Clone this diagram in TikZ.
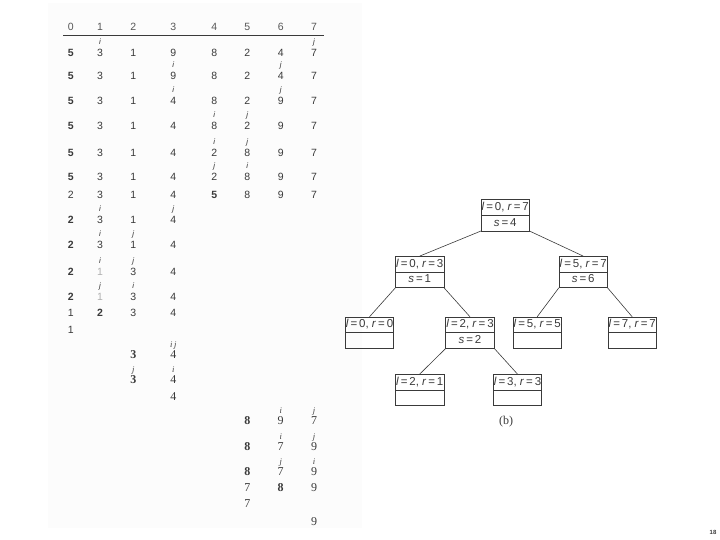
\documentclass[tikz,border=0pt]{standalone}
\usepackage{fontspec}
\setmainfont{Liberation Sans}
\newfontfamily\serifnum{Liberation Serif}
\usetikzlibrary{positioning}
\definecolor{ink}{HTML}{3A3A3A}
\definecolor{panel}{HTML}{FCFCFC}
\tikzset{
  num/.style={inner sep=0pt, font=\fontsize{10.5}{12}\selectfont, text=ink},
  hnum/.style={num, text=ink!85},
  snum/.style={inner sep=0pt, font=\serifnum\fontsize{12}{14}\selectfont, text=ink},
  idx/.style={inner sep=0pt, text depth=0pt, font=\fontsize{8}{9}\selectfont\itshape, text=ink},
  sidx/.style={idx, font=\serifnum\fontsize{8.5}{9}\selectfont\itshape},
  lr/.style={draw=ink, line width=.6pt, minimum width=48.5pt, minimum height=15.8pt, inner sep=0pt, outer sep=0pt,
    text height=8pt, text depth=2pt, font=\fontsize{11.5}{12}\selectfont, text=ink},
  tl/.style={draw=ink, line width=.6pt},
}
\begin{document}
\begin{tikzpicture}[x=1pt, y=-1pt]
  \useasboundingbox (0,0) rectangle (720,540);
  \fill[panel] (48,3) rectangle (362,528);
  % (a) index row
  \foreach \x [count=\k from 0] in {70.7,100,133.3,173.3,214.3,247.3,280.7,314}
    \node[hnum] (h\k) at (\x,27) {\k};
  \draw[ink, line width=.8pt] (63,35) -- (324,35);
  % l=0, r=7, pivot 5
  \foreach \v [count=\k from 0] in {{\bfseries 5},3,1,9,8,2,4,7}
    \node[num] (r1c\k) at (h\k |- 0,53) {\v};
  \node[idx, above=4pt of r1c1] (r1i) {i};
  \node[idx, above=4pt of r1c7] (r1j) {j};
  \foreach \v [count=\k from 0] in {{\bfseries 5},3,1,9,8,2,4,7}
    \node[num] (r2c\k) at (h\k |- 0,76) {\v};
  \node[idx, above=4pt of r2c3] (r2i) {i};
  \node[idx, above=4pt of r2c6] (r2j) {j};
  \foreach \v [count=\k from 0] in {{\bfseries 5},3,1,4,8,2,9,7}
    \node[num] (r3c\k) at (h\k |- 0,101) {\v};
  \node[idx, above=4pt of r3c3] (r3i) {i};
  \node[idx, above=4pt of r3c6] (r3j) {j};
  \foreach \v [count=\k from 0] in {{\bfseries 5},3,1,4,8,2,9,7}
    \node[num] (r4c\k) at (h\k |- 0,126) {\v};
  \node[idx, above=4pt of r4c4] (r4i) {i};
  \node[idx, above=4pt of r4c5] (r4j) {j};
  \foreach \v [count=\k from 0] in {{\bfseries 5},3,1,4,2,8,9,7}
    \node[num] (r5c\k) at (h\k |- 0,153) {\v};
  \node[idx, above=4pt of r5c4] (r5i) {i};
  \node[idx, above=4pt of r5c5] (r5j) {j};
  \foreach \v [count=\k from 0] in {{\bfseries 5},3,1,4,2,8,9,7}
    \node[num] (r6c\k) at (h\k |- 0,177) {\v};
  \node[idx, above=4pt of r6c4] (r6j) {j};
  \node[idx, above=4pt of r6c5] (r6i) {i};
  \foreach \v [count=\k from 0] in {2,3,1,4,{\bfseries 5},8,9,7}
    \node[num] (r7c\k) at (h\k |- 0,195) {\v};
  % l=0, r=3, pivot 2
  \foreach \v [count=\k from 0] in {{\bfseries 2},3,1,4}
    \node[num] (r8c\k) at (h\k |- 0,220) {\v};
  \node[idx, above=4pt of r8c1] (r8i) {i};
  \node[idx, above=4pt of r8c3] (r8j) {j};
  \foreach \v [count=\k from 0] in {{\bfseries 2},3,1,4}
    \node[num] (r9c\k) at (h\k |- 0,245) {\v};
  \node[idx, above=4pt of r9c1] (r9i) {i};
  \node[idx, above=4pt of r9c2] (r9j) {j};
  \foreach \v [count=\k from 0] in {{\bfseries 2},{\color{ink!40}1},3,4}
    \node[num] (r10c\k) at (h\k |- 0,272) {\v};
  \node[idx, above=4pt of r10c1] (r10i) {i};
  \node[idx, above=4pt of r10c2] (r10j) {j};
  \foreach \v [count=\k from 0] in {{\bfseries 2},{\color{ink!40}1},3,4}
    \node[num] (r11c\k) at (h\k |- 0,297) {\v};
  \node[idx, above=4pt of r11c1] (r11j) {j};
  \node[idx, above=4pt of r11c2] (r11i) {i};
  \foreach \v [count=\k from 0] in {1,{\bfseries 2},3,4}
    \node[num] (r12c\k) at (h\k |- 0,313) {\v};
  \node[num] (r13c0) at (h0 |- 0,330) {1};
  % l=2, r=3, pivot 3
  \node[snum] (r14c2) at (h2 |- 0,355) {\bfseries 3};
  \node[snum] (r14c3) at (h3 |- 0,355) {4};
  \node[sidx, above=3pt of r14c3] (r14ij) {i\,j};
  \node[snum] (r15c2) at (h2 |- 0,380) {\bfseries 3};
  \node[snum] (r15c3) at (h3 |- 0,380) {4};
  \node[sidx, above=3pt of r15c2] (r15j) {j};
  \node[sidx, above=3pt of r15c3] (r15i) {i};
  \node[snum] (r16c3) at (h3 |- 0,397) {4};
  % l=5, r=7, pivot 8
  \foreach \v [count=\k from 5] in {{\bfseries 8},9,7}
    \node[snum] (r17c\k) at (h\k |- 0,421) {\v};
  \node[sidx, above=3pt of r17c6] (r17i) {i};
  \node[sidx, above=3pt of r17c7] (r17j) {j};
  \foreach \v [count=\k from 5] in {{\bfseries 8},7,9}
    \node[snum] (r18c\k) at (h\k |- 0,447) {\v};
  \node[sidx, above=3pt of r18c6] (r18i) {i};
  \node[sidx, above=3pt of r18c7] (r18j) {j};
  \foreach \v [count=\k from 5] in {{\bfseries 8},7,9}
    \node[snum] (r19c\k) at (h\k |- 0,472) {\v};
  \node[sidx, above=3pt of r19c6] (r19j) {j};
  \node[sidx, above=3pt of r19c7] (r19i) {i};
  \foreach \v [count=\k from 5] in {7,{\bfseries 8},9}
    \node[snum] (r20c\k) at (h\k |- 0,488) {\v};
  \node[snum] (r21c5) at (h5 |- 0,504) {7};
  \node[snum] (r22c7) at (h7 |- 0,522) {9};

  % (b) recursion tree
  \node[lr] (n07) at (505.2,207.3) {\textit{l}\,=\,0, \textit{r}\,=\,7};
  \node[lr, below=0pt of n07] (n07s) {\textit{s}\,=\,4};
  \node[lr] (n03) at (419.7,264) {\textit{l}\,=\,0, \textit{r}\,=\,3};
  \node[lr, below=0pt of n03] (n03s) {\textit{s}\,=\,1};
  \node[lr] (n57) at (583.2,264) {\textit{l}\,=\,5, \textit{r}\,=\,7};
  \node[lr, below=0pt of n57] (n57s) {\textit{s}\,=\,6};
  \node[lr] (n00) at (369.5,324.7) {\textit{l}\,=\,0, \textit{r}\,=\,0};
  \node[lr, below=0pt of n00] (n00s) {};
  \node[lr] (n23) at (470,324.7) {\textit{l}\,=\,2, \textit{r}\,=\,3};
  \node[lr, below=0pt of n23] (n23s) {\textit{s}\,=\,2};
  \node[lr] (n55) at (537.2,324.7) {\textit{l}\,=\,5, \textit{r}\,=\,5};
  \node[lr, below=0pt of n55] (n55s) {};
  \node[lr] (n77) at (632.2,324.7) {\textit{l}\,=\,7, \textit{r}\,=\,7};
  \node[lr, below=0pt of n77] (n77s) {};
  \node[lr] (n21) at (419.7,382) {\textit{l}\,=\,2, \textit{r}\,=\,1};
  \node[lr, below=0pt of n21] (n21s) {};
  \node[lr] (n33) at (517.5,382) {\textit{l}\,=\,3, \textit{r}\,=\,3};
  \node[lr, below=0pt of n33] (n33s) {};
  \draw[tl] (n07s.south west) -- (n03.north);
  \draw[tl] (n07s.south east) -- (n57.north);
  \draw[tl] (n03s.south west) -- (n00.north);
  \draw[tl] (n03s.south east) -- (n23.north);
  \draw[tl] (n57s.south west) -- (n55.north);
  \draw[tl] (n57s.south east) -- (n77.north);
  \draw[tl] (n23s.south west) -- (n21.north);
  \draw[tl] (n23s.south east) -- (n33.north);
  \node[font=\serifnum\fontsize{12}{14}\selectfont, text=ink] (cap) at (506,422) {(b)};

  \node[font=\fontsize{6}{6}\selectfont\bfseries, text=ink] (pg) at (713,532) {18};
\end{tikzpicture}
\end{document}
